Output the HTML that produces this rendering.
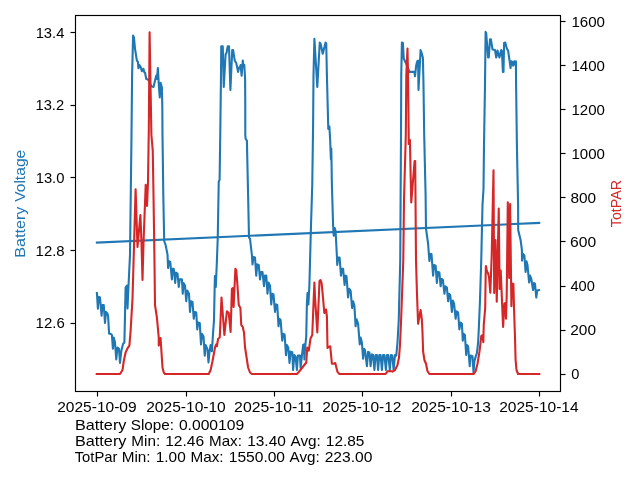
<!DOCTYPE html>
<html lang="en"><head><meta charset="utf-8"><title>Battery Voltage / TotPAR</title>
<style>html,body{margin:0;padding:0;background:#fff;overflow:hidden}svg{display:block;will-change:transform}text{font-family:"Liberation Sans",sans-serif;font-size:14.2px;fill:#000}</style></head><body>
<svg width="640" height="480" viewBox="0 0 640 480">
<rect x="0" y="0" width="640" height="480" fill="#ffffff"/>
<defs><clipPath id="c"><rect x="75.5" y="15.5" width="485" height="376"/></clipPath></defs>
<g clip-path="url(#c)" fill="none" stroke-width="2.1" stroke-linejoin="round">
<polyline stroke="#1f77b4" stroke-linecap="square" points="96.90,293.10 97.90,308.75 98.75,296.90 100.00,297.50 101.60,315.60 102.50,305.00 103.75,305.00 105.00,323.00 106.00,311.90 107.50,313.75 108.10,316.25 109.10,333.75 110.60,333.75 111.90,335.00 112.90,348.75 113.75,337.50 115.00,342.50 116.25,359.40 117.50,347.50 119.00,348.75 120.00,363.00 121.25,351.25 123.10,343.75 124.40,342.50 125.00,315.00 125.60,287.50 126.90,285.60 127.50,308.50 128.30,290.00 130.00,255.00 131.50,135.00 132.10,75.00 133.10,35.60 134.00,37.50 135.00,48.75 136.90,60.60 137.90,61.90 138.40,68.10 139.40,65.00 140.60,66.90 141.90,71.25 143.40,68.75 144.40,72.50 145.00,72.50 146.25,79.00 148.10,79.60 151.25,86.25 153.50,86.90 156.25,75.60 156.90,79.00 157.90,68.10 158.75,83.75 159.75,97.50 160.60,82.80 161.90,87.50 162.30,106.00 162.50,135.00 163.30,195.00 164.20,241.00 165.60,245.00 167.50,254.40 168.10,268.00 169.00,261.25 170.25,262.00 171.90,279.40 172.50,268.75 173.75,268.75 175.20,283.00 176.00,272.50 177.50,273.50 178.75,286.90 179.75,279.40 181.90,279.40 182.75,293.75 183.50,283.00 185.00,285.60 186.25,301.25 187.25,290.60 189.00,293.75 190.00,312.00 191.00,301.25 192.50,302.00 193.75,318.75 194.75,312.00 196.25,312.50 197.25,329.40 198.10,322.50 199.75,323.00 201.00,344.40 201.90,333.75 203.50,336.25 204.75,355.60 205.60,345.00 207.50,349.40 208.50,362.50 209.40,352.50 210.60,345.00 211.90,351.25 213.10,332.50 214.00,320.00 214.90,276.00 215.80,287.00 216.90,261.00 217.75,237.50 218.50,195.00 218.75,181.25 219.60,180.00 220.25,135.00 221.00,75.00 221.25,46.25 222.75,46.25 223.75,86.90 225.60,54.40 226.50,53.00 227.75,46.25 229.00,46.25 230.40,90.00 232.25,50.00 233.10,50.00 234.75,60.60 236.25,63.00 238.10,71.90 239.00,67.50 240.00,67.50 240.60,65.00 241.60,75.60 242.80,60.50 243.50,67.00 244.30,65.00 245.10,79.00 245.25,100.00 245.30,135.00 245.60,138.75 246.90,140.60 248.10,195.00 249.00,237.50 250.00,238.75 251.90,255.00 252.50,264.40 253.50,257.00 255.00,257.50 256.25,275.60 257.25,264.40 258.75,265.00 260.00,279.40 261.00,272.00 262.50,272.00 264.00,286.25 265.00,275.60 266.25,275.60 267.50,293.75 268.50,282.50 270.00,285.60 271.25,304.40 272.25,293.75 273.50,294.40 275.00,311.90 276.00,304.40 277.25,305.00 278.50,326.25 279.40,318.75 280.60,320.00 282.25,340.60 283.30,333.75 284.60,334.70 286.00,355.30 286.90,345.00 288.30,348.00 289.50,363.00 290.60,351.60 292.30,352.30 293.10,370.00 294.40,355.00 295.60,356.90 296.90,370.00 297.90,355.60 300.00,355.60 300.60,368.00 303.10,345.00 304.10,344.40 304.40,359.40 305.00,348.75 306.25,336.25 306.90,303.75 307.50,293.00 308.40,304.50 309.40,285.00 310.00,262.50 311.00,225.00 312.25,185.00 313.10,125.00 313.50,75.00 314.40,38.75 317.30,86.90 319.75,42.50 320.60,43.75 322.75,53.75 325.60,42.50 326.25,43.75 326.90,75.00 328.30,129.00 329.40,126.50 330.20,141.00 330.90,159.50 331.30,148.50 331.90,185.00 333.10,225.00 333.75,235.60 334.75,228.00 335.60,231.25 336.90,256.25 337.25,265.00 338.10,257.50 339.60,257.50 341.00,275.60 341.90,268.75 343.10,268.75 344.60,285.00 345.40,275.60 346.50,276.25 348.10,297.50 349.10,288.75 350.60,290.60 352.10,308.00 353.10,301.25 354.40,305.60 355.60,326.25 356.60,319.40 358.10,323.75 359.75,344.40 360.60,337.50 361.90,342.50 363.10,358.75 364.10,348.75 365.00,350.00 366.90,366.25 368.10,351.90 369.40,352.50 370.60,366.25 371.90,354.40 373.10,355.00 374.40,370.00 375.60,355.00 376.90,355.00 378.10,370.00 379.30,355.00 380.60,355.00 381.90,370.00 383.10,355.00 384.40,355.00 385.90,370.00 387.00,355.00 388.30,355.00 389.80,370.00 391.00,355.00 392.30,355.50 393.60,370.00 395.00,355.00 396.25,355.60 397.50,342.50 398.75,320.00 400.25,260.00 400.60,200.00 401.00,135.00 401.25,75.00 401.90,42.50 402.90,43.00 403.75,58.75 406.25,63.75 409.40,71.90 414.40,71.90 415.00,76.25 416.25,65.00 417.25,61.25 418.10,60.60 418.50,90.00 420.60,50.00 421.90,53.75 422.90,58.00 423.50,85.00 424.20,135.00 425.60,195.00 426.00,228.75 428.10,243.75 429.40,261.00 430.30,254.00 431.50,254.00 433.10,275.60 434.10,265.00 435.60,265.60 436.90,283.00 437.90,271.90 439.40,272.50 440.60,286.25 441.60,278.75 442.90,280.00 444.40,293.75 445.40,286.25 446.90,287.50 448.10,301.25 449.00,293.75 450.25,295.00 451.90,311.90 452.90,300.60 454.10,303.75 455.60,318.75 456.60,311.25 458.10,312.50 459.40,329.40 460.60,322.50 461.90,323.75 462.80,340.60 463.60,333.75 464.90,335.00 466.20,355.00 466.90,345.00 468.10,346.25 469.75,366.25 470.60,355.60 472.50,356.25 473.50,372.50 474.40,361.25 475.60,356.90 476.90,353.00 478.10,342.50 478.75,330.00 480.00,300.00 481.25,260.00 482.50,205.00 483.50,188.75 484.00,145.00 485.00,85.00 485.60,31.90 486.20,33.00 488.10,57.50 488.75,57.50 490.00,39.40 490.90,39.40 492.50,49.40 495.00,50.00 496.25,57.50 497.50,50.60 499.40,57.50 501.25,50.00 501.90,51.25 502.90,71.90 503.50,71.90 504.10,43.00 505.25,42.50 506.90,48.75 508.10,50.60 510.60,68.00 511.25,61.25 512.50,61.90 513.10,65.60 514.40,61.25 515.40,65.00 515.90,61.25 516.10,85.00 516.90,145.00 518.10,205.00 518.20,230.00 520.60,240.00 521.90,250.00 522.00,260.60 523.10,253.75 524.40,255.60 525.60,271.90 526.50,261.25 527.50,265.00 529.10,282.50 530.00,275.60 531.25,278.75 533.10,290.00 534.10,283.00 535.00,283.75 536.25,297.50 537.25,290.60 539.00,290.00"/>
<polyline stroke="#1f77b4" stroke-linecap="square" points="96.90,242.60 539.20,222.90"/>
<polyline stroke="#d62728" stroke-linecap="square" points="96.70,374.00 120.00,374.00 122.50,370.00 123.75,361.25 125.60,352.50 127.50,348.40 129.40,345.60 130.60,331.00 132.50,298.75 133.75,255.00 135.60,189.40 137.50,247.00 140.40,215.00 141.50,243.00 142.50,280.00 143.50,243.00 145.70,184.70 147.00,206.00 148.00,182.50 148.80,130.00 149.60,32.30 150.60,90.00 151.40,135.00 152.75,150.60 153.50,195.00 154.40,255.00 155.00,305.00 156.90,317.50 158.75,337.50 158.75,345.60 160.60,338.00 161.00,345.00 162.50,367.50 163.75,372.50 165.00,374.00 208.75,374.00 210.60,370.00 212.50,361.25 215.00,347.50 216.25,344.40 216.90,346.25 218.10,338.75 219.75,337.50 221.50,297.50 224.40,335.00 226.90,311.25 228.75,313.00 230.60,331.90 231.90,289.00 232.80,288.00 233.60,307.00 235.40,268.75 236.25,270.00 237.50,286.00 238.75,305.00 240.40,308.00 241.25,325.00 242.75,326.90 244.00,332.50 245.00,347.00 248.10,367.50 250.00,372.50 251.90,374.00 296.90,374.00 299.40,371.25 306.25,362.50 307.25,347.50 308.75,350.60 310.60,338.25 312.25,335.00 313.75,297.50 314.40,282.50 315.00,297.00 317.30,332.50 319.50,281.00 320.50,280.00 321.60,283.00 323.00,297.50 324.30,313.00 326.00,309.40 326.90,316.25 327.50,348.00 328.75,346.90 330.25,346.25 331.90,363.75 333.75,363.75 335.25,363.00 337.50,371.90 339.40,374.00 385.60,374.00 387.50,371.25 390.00,371.00 392.50,371.60 395.00,370.00 397.50,365.00 399.00,357.50 400.00,345.00 401.10,320.00 403.30,260.00 404.00,200.00 405.80,135.00 406.30,75.00 407.50,48.50 408.00,75.00 408.70,135.00 408.75,144.00 409.90,140.00 411.25,202.50 414.60,161.00 415.20,161.00 416.00,260.00 416.90,291.25 418.10,323.75 420.60,310.00 421.90,320.00 422.50,332.50 423.10,351.25 424.40,360.00 426.00,363.75 427.50,371.25 429.40,374.00 473.75,374.00 475.60,371.25 477.50,363.75 479.40,352.00 480.60,342.50 481.25,336.00 482.50,335.00 483.30,342.20 483.75,325.00 485.20,308.00 485.60,278.00 485.90,266.00 487.00,271.50 488.00,273.00 489.00,277.00 490.30,292.70 491.70,256.00 493.50,170.30 494.20,293.00 495.50,240.00 496.75,301.75 498.75,208.50 499.60,289.00 500.70,270.60 503.10,326.90 504.40,303.75 505.60,303.00 506.00,318.75 506.70,296.00 507.80,202.30 509.20,278.00 510.10,204.00 511.40,306.25 512.00,283.50 513.40,284.00 514.00,308.00 515.00,337.50 515.60,360.00 516.50,370.00 518.10,374.00 539.30,374.00"/>
</g>
<g stroke="#000" stroke-width="1.15" fill="none">
<line x1="97.5" y1="391.5" x2="97.5" y2="396.5"/>
<line x1="186.5" y1="391.5" x2="186.5" y2="396.5"/>
<line x1="274.5" y1="391.5" x2="274.5" y2="396.5"/>
<line x1="362.5" y1="391.5" x2="362.5" y2="396.5"/>
<line x1="451.5" y1="391.5" x2="451.5" y2="396.5"/>
<line x1="539.5" y1="391.5" x2="539.5" y2="396.5"/>
<line x1="70.5" y1="32.5" x2="75.5" y2="32.5"/>
<line x1="70.5" y1="105.5" x2="75.5" y2="105.5"/>
<line x1="70.5" y1="177.5" x2="75.5" y2="177.5"/>
<line x1="70.5" y1="250.5" x2="75.5" y2="250.5"/>
<line x1="70.5" y1="323.5" x2="75.5" y2="323.5"/>
<line x1="560.5" y1="374.5" x2="565.5" y2="374.5"/>
<line x1="560.5" y1="330.5" x2="565.5" y2="330.5"/>
<line x1="560.5" y1="286.5" x2="565.5" y2="286.5"/>
<line x1="560.5" y1="241.5" x2="565.5" y2="241.5"/>
<line x1="560.5" y1="197.5" x2="565.5" y2="197.5"/>
<line x1="560.5" y1="153.5" x2="565.5" y2="153.5"/>
<line x1="560.5" y1="109.5" x2="565.5" y2="109.5"/>
<line x1="560.5" y1="65.5" x2="565.5" y2="65.5"/>
<line x1="560.5" y1="21.5" x2="565.5" y2="21.5"/>
<rect x="75.5" y="15.5" width="485" height="376"/>
</g>
<text x="35.67" y="38.00" textLength="28.72" lengthAdjust="spacingAndGlyphs">13.4</text>
<text x="35.50" y="110.00" textLength="28.58" lengthAdjust="spacingAndGlyphs">13.2</text>
<text x="35.66" y="183.00" textLength="28.79" lengthAdjust="spacingAndGlyphs">13.0</text>
<text x="35.64" y="256.00" textLength="28.98" lengthAdjust="spacingAndGlyphs">12.8</text>
<text x="35.61" y="328.00" textLength="29.11" lengthAdjust="spacingAndGlyphs">12.6</text>
<text x="571.33" y="378.98" textLength="8.13" lengthAdjust="spacingAndGlyphs">0</text>
<text x="570.24" y="335.00" textLength="25.76" lengthAdjust="spacingAndGlyphs">200</text>
<text x="570.44" y="290.96" textLength="24.38" lengthAdjust="spacingAndGlyphs">400</text>
<text x="570.07" y="246.97" textLength="26.12" lengthAdjust="spacingAndGlyphs">600</text>
<text x="570.44" y="202.97" textLength="25.61" lengthAdjust="spacingAndGlyphs">800</text>
<text x="571.44" y="159.00" textLength="33.41" lengthAdjust="spacingAndGlyphs">1000</text>
<text x="571.44" y="115.00" textLength="33.41" lengthAdjust="spacingAndGlyphs">1200</text>
<text x="571.44" y="71.00" textLength="33.41" lengthAdjust="spacingAndGlyphs">1400</text>
<text x="571.40" y="27.00" textLength="33.57" lengthAdjust="spacingAndGlyphs">1600</text>
<text x="57.19" y="412.00" textLength="79.47" lengthAdjust="spacingAndGlyphs">2025-10-09</text>
<text x="146.18" y="412.00" textLength="79.61" lengthAdjust="spacingAndGlyphs">2025-10-10</text>
<text x="234.11" y="412.00" textLength="79.55" lengthAdjust="spacingAndGlyphs">2025-10-11</text>
<text x="322.22" y="412.00" textLength="79.24" lengthAdjust="spacingAndGlyphs">2025-10-12</text>
<text x="411.18" y="412.00" textLength="79.63" lengthAdjust="spacingAndGlyphs">2025-10-13</text>
<text x="499.18" y="412.00" textLength="79.46" lengthAdjust="spacingAndGlyphs">2025-10-14</text>
<text x="75.05" y="430.00" textLength="51.35" lengthAdjust="spacingAndGlyphs">Battery</text>
<text x="130.73" y="430.00" textLength="43.33" lengthAdjust="spacingAndGlyphs">Slope:</text>
<text x="178.90" y="430.00" textLength="65.31" lengthAdjust="spacingAndGlyphs">0.000109</text>
<text x="75.05" y="446.00" textLength="51.35" lengthAdjust="spacingAndGlyphs">Battery</text>
<text x="131.34" y="446.00" textLength="28.85" lengthAdjust="spacingAndGlyphs">Min:</text>
<text x="165.21" y="446.00" textLength="38.97" lengthAdjust="spacingAndGlyphs">12.46</text>
<text x="209.03" y="446.00" textLength="32.92" lengthAdjust="spacingAndGlyphs">Max:</text>
<text x="247.20" y="446.00" textLength="38.64" lengthAdjust="spacingAndGlyphs">13.40</text>
<text x="290.50" y="446.00" textLength="30.36" lengthAdjust="spacingAndGlyphs">Avg:</text>
<text x="325.87" y="446.00" textLength="38.52" lengthAdjust="spacingAndGlyphs">12.85</text>
<text x="74.70" y="462.00" textLength="42.82" lengthAdjust="spacingAndGlyphs">TotPar</text>
<text x="121.69" y="462.00" textLength="28.91" lengthAdjust="spacingAndGlyphs">Min:</text>
<text x="155.79" y="462.00" textLength="29.97" lengthAdjust="spacingAndGlyphs">1.00</text>
<text x="190.44" y="462.00" textLength="33.14" lengthAdjust="spacingAndGlyphs">Max:</text>
<text x="228.75" y="462.00" textLength="56.29" lengthAdjust="spacingAndGlyphs">1550.00</text>
<text x="289.63" y="462.00" textLength="30.19" lengthAdjust="spacingAndGlyphs">Avg:</text>
<text x="324.67" y="462.00" textLength="47.76" lengthAdjust="spacingAndGlyphs">223.00</text>
<text transform="translate(25.25,257.86) rotate(-90)" textLength="51.29" lengthAdjust="spacingAndGlyphs" style="fill:#1f77b4">Battery</text>
<text transform="translate(25.22,201.87) rotate(-90)" textLength="52.15" lengthAdjust="spacingAndGlyphs" style="fill:#1f77b4">Voltage</text>
<text transform="translate(621.28,227.23) rotate(-90)" textLength="47.37" lengthAdjust="spacingAndGlyphs" style="fill:#d62728">TotPAR</text>
</svg></body></html>
